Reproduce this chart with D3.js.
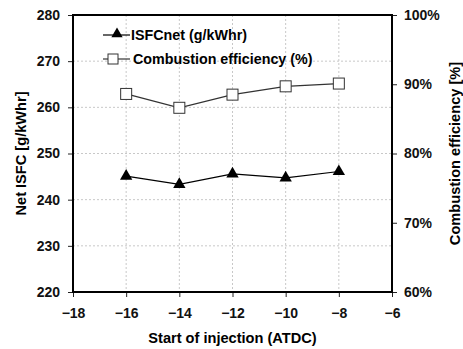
<!DOCTYPE html>
<html><head><meta charset="utf-8">
<script src="https://cdn.jsdelivr.net/npm/d3@7"></script>
<style>body{margin:0;background:#fff}svg{display:block;font-family:"Liberation Sans",Arial,sans-serif;font-weight:bold}</style>
</head><body>
<script>
const injection = [-16, -14, -12, -10, -8];
const isfcNet = [245.1, 243.3, 245.6, 244.7, 246.1];
const combEff = [88.6, 86.6, 88.5, 89.7, 90.1];
const xTicks = [-18, -16, -14, -12, -10, -8, -6];
const leftTicks = [220, 230, 240, 250, 260, 270, 280];
const rightTicks = [60, 70, 80, 90, 100];
const legendLabels = ["ISFCnet (g/kWhr)", "Combustion efficiency (%)"];

const W = 463, H = 349;
const m = {l: 73, r: 392, t: 15, b: 292};
const svg = d3.select("body").append("svg").attr("width", W).attr("height", H);
const x = d3.scaleLinear().domain([-18, -6]).range([m.l, m.r]);
const yL = d3.scaleLinear().domain([220, 280]).range([m.b, m.t]);
const yR = d3.scaleLinear().domain([60, 100]).range([m.b, m.t]);

// gridlines
const g = svg.append("g");
g.selectAll(".hg").data(leftTicks.slice(1, -1)).enter().append("line")
  .attr("x1", m.l).attr("x2", m.r).attr("y1", d => yL(d)).attr("y2", d => yL(d))
  .attr("stroke", "#c8c8c8").attr("stroke-width", 1).attr("stroke-dasharray", "2,2");
g.selectAll(".vg").data(xTicks.slice(1, -1)).enter().append("line")
  .attr("y1", m.t).attr("y2", m.b).attr("x1", d => x(d)).attr("x2", d => x(d))
  .attr("stroke", "#c8c8c8").attr("stroke-width", 1).attr("stroke-dasharray", "2,2");

// axes
const fs = "14px";
const ax = svg.append("g").attr("transform", `translate(0,${m.b})`)
  .call(d3.axisBottom(x).tickValues(xTicks).tickSize(5).tickSizeOuter(0).tickPadding(11));
const al = svg.append("g").attr("transform", `translate(${m.l},0)`)
  .call(d3.axisLeft(yL).tickValues(leftTicks).tickSize(5).tickSizeOuter(0).tickPadding(8));
const ar = svg.append("g").attr("transform", `translate(${m.r},0)`)
  .call(d3.axisRight(yR).tickValues(rightTicks).tickFormat(d => d + "%").tickSize(5).tickSizeOuter(0).tickPadding(7));
[ax, al, ar].forEach(a => {
  a.select(".domain").remove();
  a.selectAll("text").attr("font-size", fs).attr("font-weight", "bold").attr("fill", "#111").attr("font-family", "Liberation Sans, Arial, sans-serif");
  a.selectAll("line").attr("stroke", "#222");
});

// frame
svg.append("rect").attr("x", m.l).attr("y", m.t).attr("width", m.r - m.l).attr("height", m.b - m.t)
  .attr("fill", "none").attr("stroke", "#000").attr("stroke-width", 2);

// series
const lineL = d3.line().x((d, i) => x(injection[i])).y(d => yL(d));
const lineR = d3.line().x((d, i) => x(injection[i])).y(d => yR(d));
svg.append("path").attr("d", lineR(combEff)).attr("fill", "none").attr("stroke", "#333").attr("stroke-width", 1.2);
svg.append("path").attr("d", lineL(isfcNet)).attr("fill", "none").attr("stroke", "#000").attr("stroke-width", 1.2);
const tri = d3.symbol().type(d3.symbolTriangle).size(66);
svg.selectAll(".tri").data(isfcNet).enter().append("path")
  .attr("d", tri).attr("transform", (d, i) => `translate(${x(injection[i])},${yL(d)})`).attr("fill", "#000");
svg.selectAll(".sq").data(combEff).enter().append("rect")
  .attr("x", (d, i) => x(injection[i]) - 5.5).attr("y", d => yR(d) - 5.5)
  .attr("width", 11).attr("height", 11).attr("fill", "#fff").attr("stroke", "#333").attr("stroke-width", 1);

// legend
const lg = svg.append("g");
lg.append("line").attr("x1", 103).attr("x2", 130).attr("y1", 35).attr("y2", 35).attr("stroke", "#000").attr("stroke-width", 1.2);
lg.append("path").attr("d", d3.symbol().type(d3.symbolTriangle).size(55)).attr("transform", "translate(117,34)").attr("fill", "#000");
lg.append("text").attr("x", 131).attr("y", 40).attr("font-size", "14.3px").text(legendLabels[0]);
lg.append("line").attr("x1", 103).attr("x2", 130).attr("y1", 59).attr("y2", 59).attr("stroke", "#333").attr("stroke-width", 1.2);
lg.append("rect").attr("x", 108).attr("y", 54).attr("width", 10).attr("height", 10).attr("fill", "#fff").attr("stroke", "#333");
lg.append("text").attr("x", 133).attr("y", 64).attr("font-size", "14.3px").text(legendLabels[1]);

// titles
svg.append("text").attr("x", (m.l + m.r) / 2).attr("y", 343).attr("text-anchor", "middle").attr("font-size", "14.6px").text("Start of injection (ATDC)");
svg.append("text").attr("transform", `translate(26,${(m.t + m.b) / 2}) rotate(-90)`).attr("text-anchor", "middle").attr("font-size", "14.6px").text("Net ISFC [g/kWhr]");
svg.append("text").attr("transform", `translate(460,${(m.t + m.b) / 2}) rotate(-90)`).attr("text-anchor", "middle").attr("font-size", "14.6px").text("Combustion efficiency [%]");
</script>
</body></html>
